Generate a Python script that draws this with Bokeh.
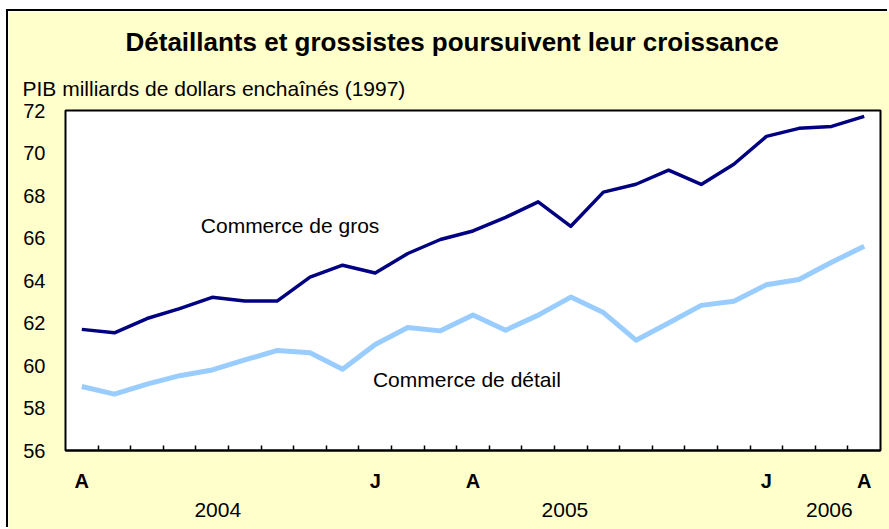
from bokeh.plotting import figure
from bokeh.models import (Range1d, LinearAxis, FixedTicker, Label, Title)
from bokeh.embed import file_html
from bokeh.resources import INLINE

# ---- data -------------------------------------------------------------
months = ["2004-04", "2004-05", "2004-06", "2004-07", "2004-08", "2004-09",
          "2004-10", "2004-11", "2004-12", "2005-01", "2005-02", "2005-03",
          "2005-04", "2005-05", "2005-06", "2005-07", "2005-08", "2005-09",
          "2005-10", "2005-11", "2005-12", "2006-01", "2006-02", "2006-03",
          "2006-04"]
commerce_gros = [61.70, 61.54, 62.21, 62.68, 63.21, 63.04, 63.04, 64.16, 64.72,
                 64.35, 65.27, 65.93, 66.33, 66.97, 67.70, 66.55, 68.16, 68.53,
                 69.19, 68.52, 69.47, 70.78, 71.16, 71.25, 71.72]
commerce_detail = [59.01, 58.65, 59.12, 59.52, 59.79, 60.26, 60.71, 60.60, 59.82,
                   60.99, 61.79, 61.63, 62.38, 61.66, 62.37, 63.22, 62.49, 61.19,
                   62.00, 62.83, 63.02, 63.80, 64.05, 64.86, 65.61]
month_tick_labels = {"2004-04": "A", "2005-01": "J", "2005-04": "A",
                     "2006-01": "J", "2006-04": "A"}
year_labels = ["2004", "2005", "2006"]
y_ticks = [56, 58, 60, 62, 64, 66, 68, 70, 72]

FONT = "Liberation Sans"
x = list(range(len(months)))

p = figure(width=881, height=518, output_backend="svg", toolbar_location=None,
           x_range=Range1d(-0.5, len(months) - 0.5), y_range=Range1d(56, 72),
           x_axis_type=None, y_axis_type=None,
           min_border_left=57, min_border_right=9, min_border_top=99,
           min_border_bottom=79)
p.border_fill_color = "#FFFFCC"
p.background_fill_color = "white"
p.outline_line_color = "black"
p.outline_line_width = 2
p.styles = {"margin-left": "8px", "margin-top": "11px",
            "box-shadow": "-2px -2px 0 0 black"}

# title
p.title.text = "Détaillants et grossistes poursuivent leur croissance"
p.title.text_font = FONT
p.title.text_font_size = "26px"
p.title.text_font_style = "bold"
p.title.text_color = "black"
p.title.align = "left"
p.title.offset = 60
p.title.standoff = 16

sub = Title(text="PIB milliards de dollars enchaînés (1997)", align="left",
            offset=-43, text_font=FONT, text_font_size="21px",
            text_font_style="normal", text_color="black", standoff=21)
p.add_layout(sub, "above")

# y axis
yax = LinearAxis(ticker=FixedTicker(ticks=y_ticks))
yax.axis_line_color = None
yax.major_tick_line_color = None
yax.major_tick_in = 0
yax.major_tick_out = 0
yax.minor_tick_line_color = None
yax.minor_tick_in = 0
yax.minor_tick_out = 0
yax.major_label_standoff = 20
yax.major_label_text_font = FONT
yax.major_label_text_font_size = "20px"
yax.major_label_text_color = "black"
p.add_layout(yax, "left")

# grid
p.ygrid.ticker = FixedTicker(ticks=y_ticks)
p.ygrid.grid_line_color = "#BFBFBF"
p.ygrid.grid_line_width = 1.5
p.xgrid.grid_line_color = None

# month axis
label_pos = [months.index(m) for m in month_tick_labels]
boundaries = [i + 0.5 for i in x[:-1]]
xax = LinearAxis(ticker=FixedTicker(ticks=label_pos, minor_ticks=boundaries))
xax.major_label_overrides = {months.index(m): t for m, t in month_tick_labels.items()}
xax.axis_line_color = "black"
xax.axis_line_width = 2
xax.major_tick_line_color = None
xax.major_tick_in = 0
xax.major_tick_out = 0
xax.minor_tick_line_color = "black"
xax.minor_tick_line_width = 1.5
xax.minor_tick_in = 5
xax.minor_tick_out = 0
xax.major_label_standoff = 19
xax.major_label_text_font = FONT
xax.major_label_text_font_size = "20px"
xax.major_label_text_font_style = "bold"
xax.major_label_text_color = "black"
p.add_layout(xax, "below")

# year axis
year_pos = [4.17, 14.82, 22.93]
yrax = LinearAxis(ticker=FixedTicker(ticks=year_pos))
yrax.major_label_overrides = {pos: t for pos, t in zip(year_pos, year_labels)}
yrax.axis_line_color = None
yrax.major_tick_line_color = None
yrax.major_tick_in = 0
yrax.major_tick_out = 0
yrax.minor_tick_line_color = None
yrax.major_label_standoff = 8
yrax.major_label_text_font = FONT
yrax.major_label_text_font_size = "21px"
yrax.major_label_text_color = "black"
p.add_layout(yrax, "below")

# lines
p.line(x, commerce_detail, line_color="#99CCFF", line_width=5, line_join="round")
p.line(x, commerce_gros, line_color="#000080", line_width=3.5, line_join="round")

p.add_layout(Label(x=3.65, y=66.58, text="Commerce de gros", text_font=FONT,
                   text_font_size="21px", text_baseline="middle",
                   text_align="left", text_color="black"))
p.add_layout(Label(x=8.93, y=59.32, text="Commerce de détail", text_font=FONT,
                   text_font_size="21px", text_baseline="middle",
                   text_align="left", text_color="black"))

open("out.html", "w").write(file_html(p, INLINE))
